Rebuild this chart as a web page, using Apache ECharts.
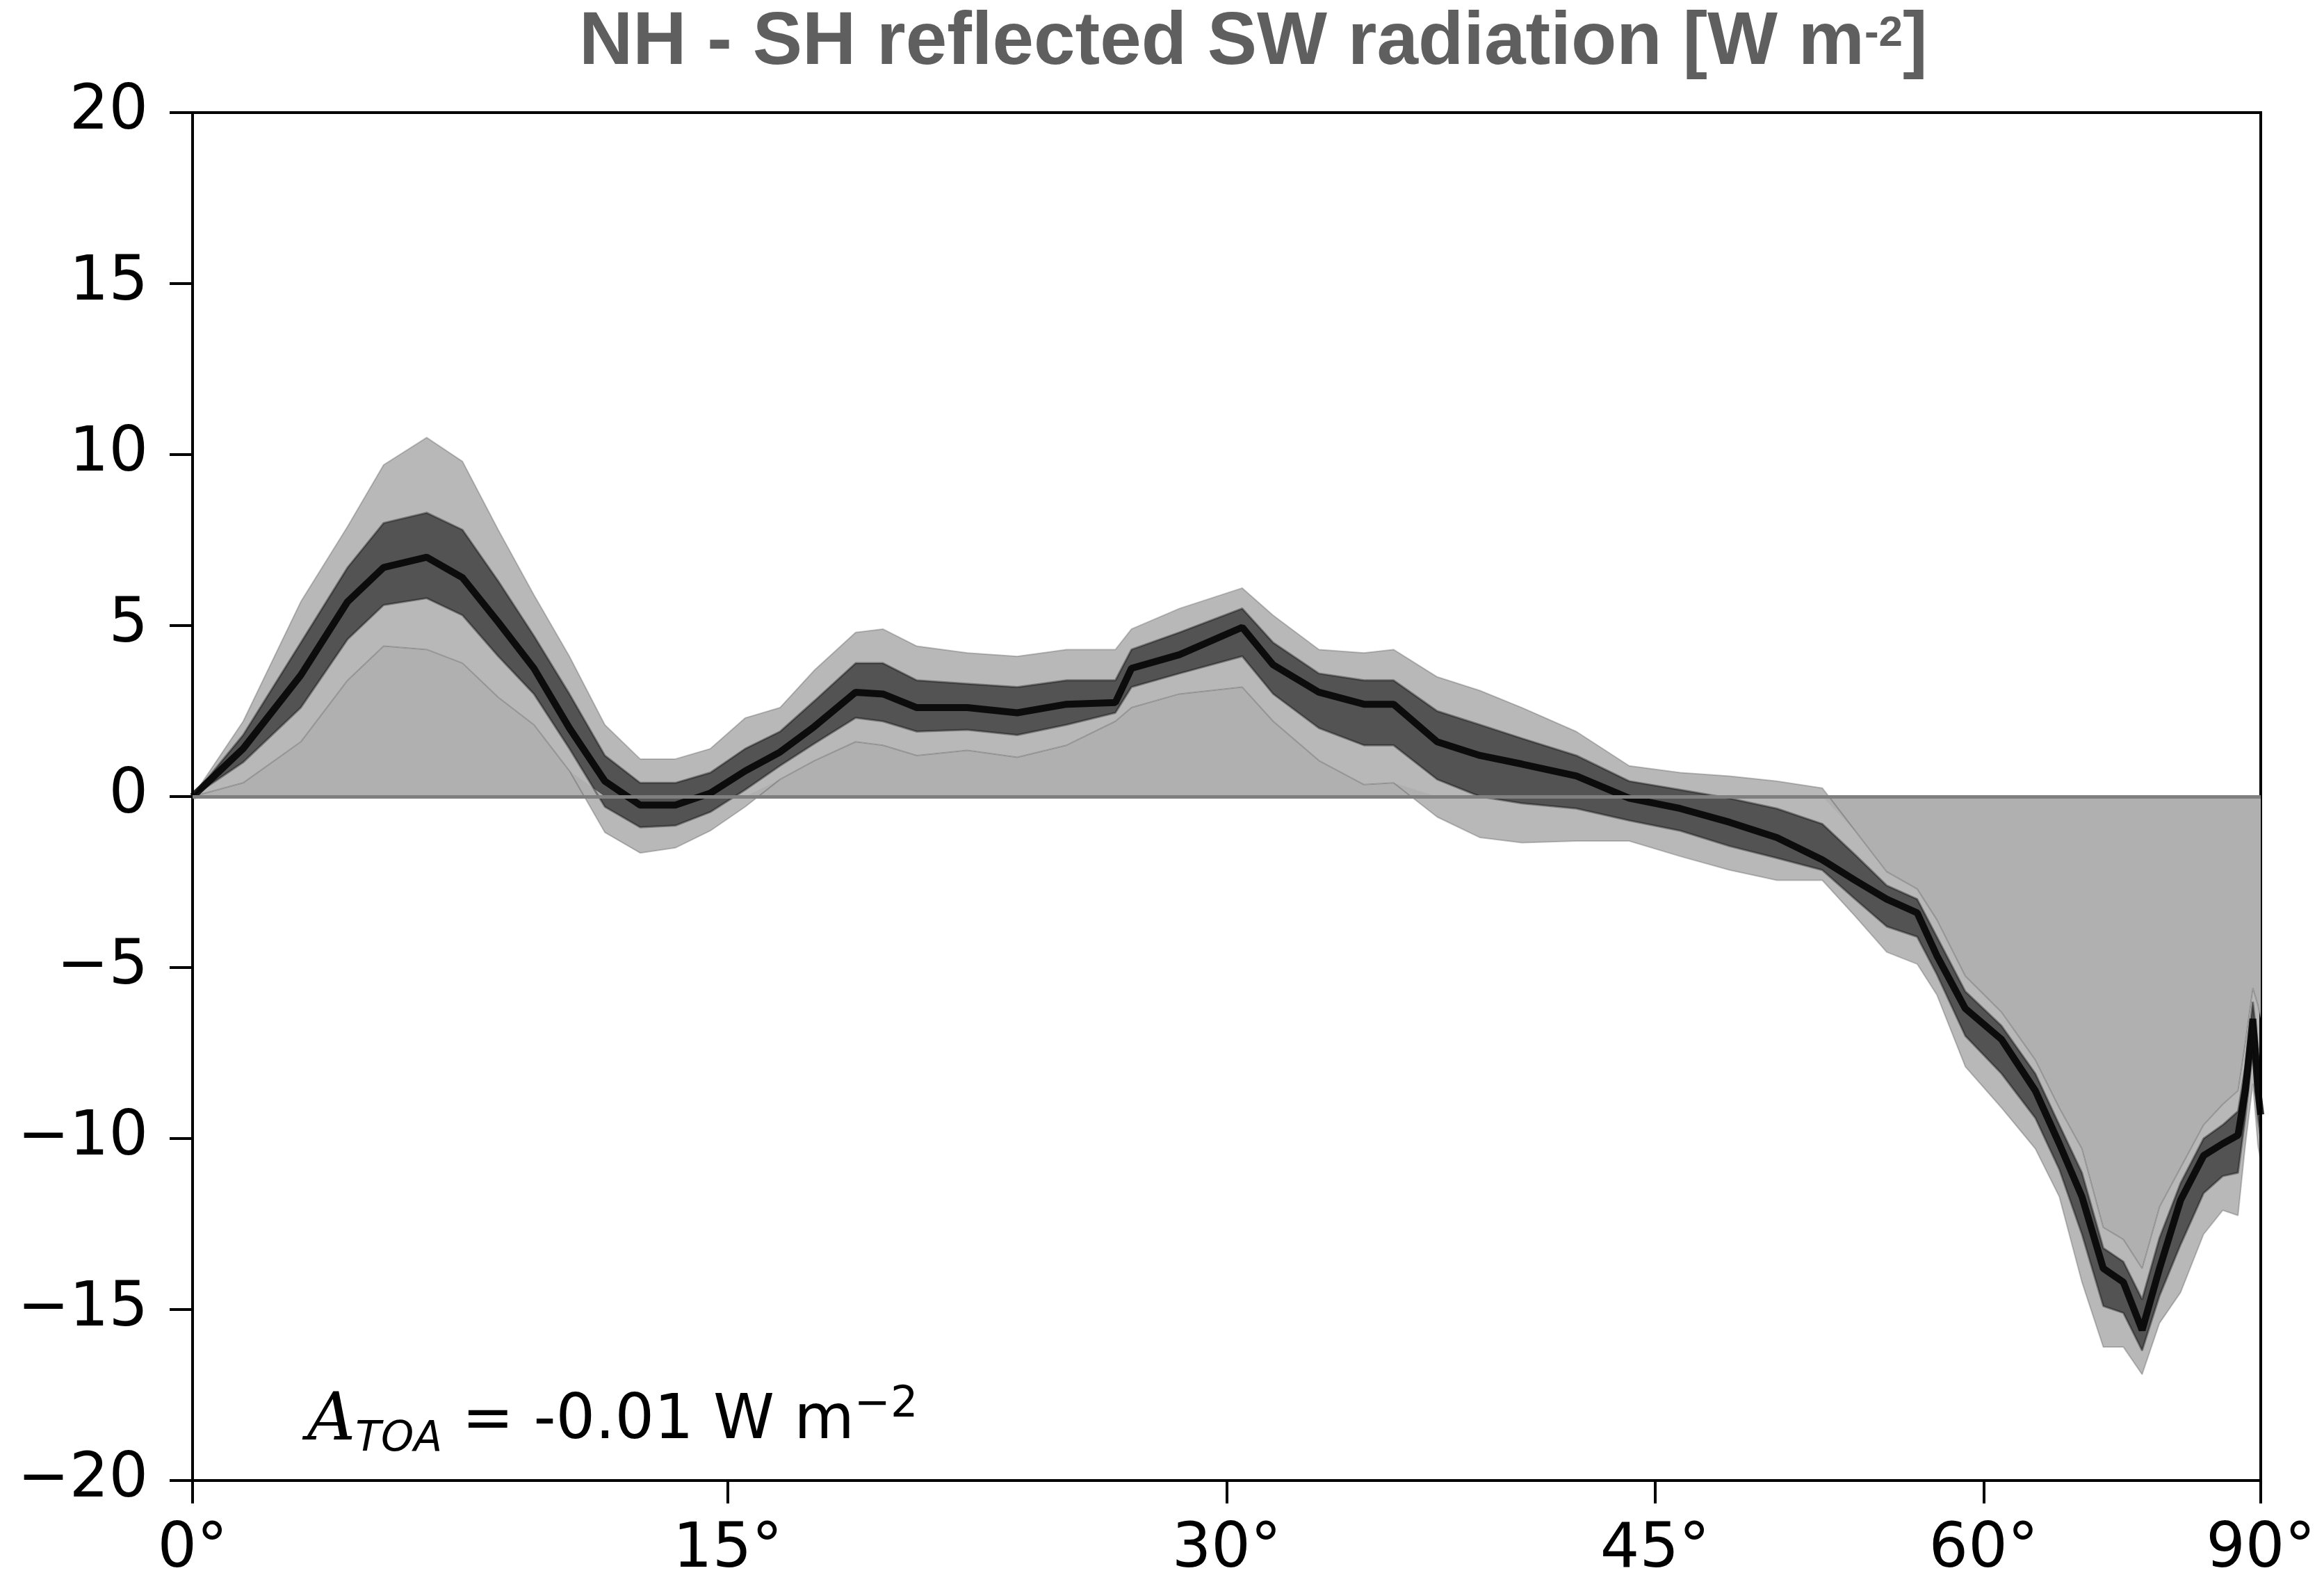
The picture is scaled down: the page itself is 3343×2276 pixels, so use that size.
<!DOCTYPE html>
<html>
<head>
<meta charset="utf-8">
<script src="https://cdn.jsdelivr.net/npm/echarts@6/dist/echarts.min.js"></script>
<style>html,body{margin:0;padding:0;background:#fff}#c{width:3343px;height:2276px}</style>
</head>
<body>
<div id="c"></div>
<script>
// Latitude grid (degrees); x axis is area-weighted (sine of latitude)
const lat = [0,1.4,3,4.3,5.3,6.5,7.5,8.5,9.5,10.5,11.5,12.5,13.5,14.5,15.5,16.5,17.5,18.7,19.5,20.5,22,23.5,25,26.5,27,28.5,30.5,31.5,33,34.5,35.5,37,38.5,40,42,44,46,48,50,52,53.5,55,56.5,57.5,59,61,63,64.5,66,67.5,69,70.5,72,74,76.5,79,81.5,83,85,87,90];
// Ensemble envelope (max), upper-dense, core, lower-dense, envelope (min)
const ensUpper = [0,2.2,5.7,7.9,9.7,10.5,9.8,7.8,5.9,4.1,2.1,1.1,1.1,1.4,2.3,2.6,3.7,4.8,4.9,4.4,4.2,4.1,4.3,4.3,4.9,5.5,6.1,5.3,4.3,4.2,4.3,3.5,3.1,2.6,1.9,0.9,0.7,0.6,0.45,0.25,-1.0,-2.2,-2.7,-3.6,-5.25,-6.3,-7.7,-9.1,-10.3,-12.6,-12.95,-13.8,-12.0,-10.85,-9.6,-9.0,-8.6,-7.2,-5.6,-6.1,-6.5];
const ensQ75 = [0,1.8,4.5,6.7,8.0,8.3,7.8,6.3,4.7,3.0,1.2,0.4,0.4,0.7,1.4,1.9,2.8,3.9,3.9,3.4,3.3,3.2,3.4,3.4,4.3,4.8,5.5,4.5,3.6,3.4,3.4,2.5,2.1,1.7,1.2,0.45,0.2,-0.05,-0.35,-0.8,-1.7,-2.6,-3.0,-4.1,-5.7,-6.7,-8.1,-9.6,-11.0,-13.2,-13.6,-14.7,-12.9,-11.3,-10.0,-9.6,-9.2,-7.9,-6.0,-7.3,-7.9];
const ensCore = [0,1.4,3.55,5.7,6.7,7.0,6.4,5.1,3.75,2.0,0.45,-0.25,-0.25,0.1,0.75,1.3,2.05,3.05,3.0,2.6,2.6,2.45,2.7,2.75,3.75,4.15,4.95,3.85,3.05,2.7,2.7,1.6,1.2,0.95,0.6,-0.05,-0.35,-0.75,-1.2,-1.85,-2.45,-3.0,-3.4,-4.65,-6.2,-7.1,-8.6,-10.15,-11.7,-13.8,-14.2,-15.6,-13.8,-11.8,-10.5,-10.15,-9.9,-8.6,-6.5,-8.6,-9.3];
const ensQ25 = [0,1.0,2.6,4.6,5.6,5.8,5.3,4.1,3.0,1.4,-0.3,-0.9,-0.85,-0.45,0.2,0.9,1.55,2.3,2.2,1.9,1.95,1.8,2.1,2.45,3.2,3.6,4.1,3.0,2.0,1.5,1.5,0.5,0.0,-0.2,-0.35,-0.7,-1.0,-1.45,-1.8,-2.15,-3.0,-3.8,-4.1,-5.2,-7.0,-8.1,-9.4,-10.9,-12.8,-14.9,-15.1,-16.2,-14.6,-13.1,-11.6,-11.1,-11.0,-9.4,-7.4,-9.4,-10.0];
const ensLower = [0,0.4,1.6,3.4,4.4,4.3,3.9,2.9,2.1,0.75,-1.05,-1.65,-1.5,-1.0,-0.3,0.5,1.05,1.6,1.5,1.2,1.35,1.15,1.5,2.2,2.6,3.0,3.2,2.2,1.05,0.35,0.4,-0.6,-1.2,-1.35,-1.3,-1.3,-1.75,-2.15,-2.45,-2.45,-3.5,-4.55,-4.9,-5.8,-7.9,-9.1,-10.3,-11.7,-14.2,-16.1,-16.1,-16.9,-15.4,-14.5,-12.8,-12.1,-12.25,-10.2,-8.4,-10.2,-10.7];
// Edge of the grey shaded region
const grayEdge = [0,0.4,1.6,3.4,4.4,4.3,3.9,2.9,2.1,0.75,0,0,0,0,0,0.5,1.05,1.6,1.5,1.2,1.35,1.15,1.5,2.2,2.6,3.0,3.2,2.2,1.05,0.35,0.4,0,0,0,0,0,0,0,0,0,-1.0,-2.2,-2.7,-3.6,-5.25,-6.3,-7.7,-9.1,-10.3,-12.6,-12.95,-13.8,-12.0,-10.85,-9.6,-9.0,-8.6,-7.2,-5.6,-6.1,-6.5];
const xTickLats = [0,15,30,45,60,90];
const yMin = -20, yMax = 20, yStep = 5;

const mu = lat.map(l => Math.sin(l * Math.PI / 180));
const pair = arr => mu.map((m, i) => [m, arr[i]]);
const xTicks = xTickLats.map(l => Math.sin(l * Math.PI / 180));

// band between two read curves, drawn through the chart's own coordinate system
function band(lo, hi, fill) {
  return {
    type: 'custom', silent: true, animation: false,
    data: [[0, 0]],
    renderItem: (params, api) => {
      const pts = [];
      for (let i = 0; i < mu.length; i++) pts.push(api.coord([mu[i], lo[i]]));
      for (let i = mu.length - 1; i >= 0; i--) pts.push(api.coord([mu[i], hi[i]]));
      return {type: 'polygon', shape: {points: pts}, style: {fill: fill, stroke: 'none'}};
    }
  };
}

const chart = echarts.init(document.getElementById('c'));
const thin = {symbol: 'none', silent: true, animation: false};
chart.setOption({
  animation: false,
  backgroundColor: '#fff',
  grid: {left: 277, right: 91, top: 162, bottom: 146, show: true, borderColor: '#000', borderWidth: 4, backgroundColor: 'transparent'},
  xAxis: {
    type: 'value', min: 0, max: 1,
    axisLine: {show: true, onZero: false, lineStyle: {color: '#000', width: 4}},
    axisTick: {show: true, customValues: xTicks, length: 33, lineStyle: {color: '#000', width: 4}},
    axisLabel: {show: true, customValues: xTicks, margin: 56, fontSize: 89, fontFamily: 'DejaVu Sans', color: '#000',
      formatter: v => Math.round(Math.asin(Math.min(1, v)) * 180 / Math.PI) + '°'},
    splitLine: {show: false}
  },
  yAxis: {
    type: 'value', min: yMin, max: yMax, interval: yStep,
    axisLine: {show: true, onZero: false, lineStyle: {color: '#000', width: 4}},
    axisTick: {show: true, length: 33, lineStyle: {color: '#000', width: 4}},
    axisLabel: {margin: 64, fontSize: 89, fontFamily: 'DejaVu Sans', color: '#000',
      formatter: v => v < 0 ? '\u2212' + Math.abs(v) : String(v)},
    splitLine: {show: false}
  },
  graphic: [
    {type: 'text', left: 833, top: 2, z: 100, style: {
      text: '{t|NH - SH reflected SW radiation [W m}{p|-2}{t|]}',
      rich: {
        t: {fontSize: 107, fontWeight: 'bold', fontFamily: 'Liberation Sans', fill: '#5f5f5f', lineHeight: 120, verticalAlign: 'middle'},
        p: {fontSize: 62, fontWeight: 'bold', fontFamily: 'Liberation Sans', fill: '#5f5f5f', lineHeight: 80, verticalAlign: 'top', padding: [16, 0, 0, 0]}
      }}},
    {type: 'text', left: 442, top: 1991, z: 100, style: {
      text: '{a|A}{s|TOA}{n| = -0.01 W m}{p|\u22122}',
      rich: {
        a: {fontSize: 96, fontStyle: 'italic', fontFamily: 'DejaVu Serif', fill: '#000', lineHeight: 110, verticalAlign: 'middle'},
        s: {fontSize: 60, fontStyle: 'italic', fontFamily: 'DejaVu Sans', fill: '#000', lineHeight: 60, verticalAlign: 'bottom'},
        n: {fontSize: 89, fontFamily: 'DejaVu Sans', fill: '#000', lineHeight: 110, verticalAlign: 'middle'},
        p: {fontSize: 62, fontFamily: 'DejaVu Sans', fill: '#000', lineHeight: 62, verticalAlign: 'top'}
      }}}
  ],
  series: [
    Object.assign({type: 'line', name: 'grey', data: pair(grayEdge), lineStyle: {width: 0, opacity: 0},
      areaStyle: {color: '#b0b0b0', opacity: 1},
      markLine: {silent: true, symbol: 'none', label: {show: false}, animation: false,
        lineStyle: {color: '#7f7f7f', width: 5, type: 'solid'}, data: [{yAxis: 0}]}}, thin),
    band(ensLower, ensUpper, 'rgba(0,0,0,0.28)'),
    band(ensQ25, ensQ75, 'rgba(0,0,0,0.55)'),
    Object.assign({type: 'line', name: 'upper', data: pair(ensUpper), lineStyle: {color: 'rgba(0,0,0,0.2)', width: 2}}, thin),
    Object.assign({type: 'line', name: 'lower', data: pair(ensLower), lineStyle: {color: 'rgba(0,0,0,0.2)', width: 2}}, thin),
    Object.assign({type: 'line', name: 'q75', data: pair(ensQ75), lineStyle: {color: 'rgba(0,0,0,0.35)', width: 3}}, thin),
    Object.assign({type: 'line', name: 'q25', data: pair(ensQ25), lineStyle: {color: 'rgba(0,0,0,0.35)', width: 3}}, thin),
    Object.assign({type: 'line', name: 'core', data: pair(ensCore), lineStyle: {color: 'rgba(0,0,0,0.85)', width: 10}}, thin)
  ]
});
</script>
</body>
</html>
